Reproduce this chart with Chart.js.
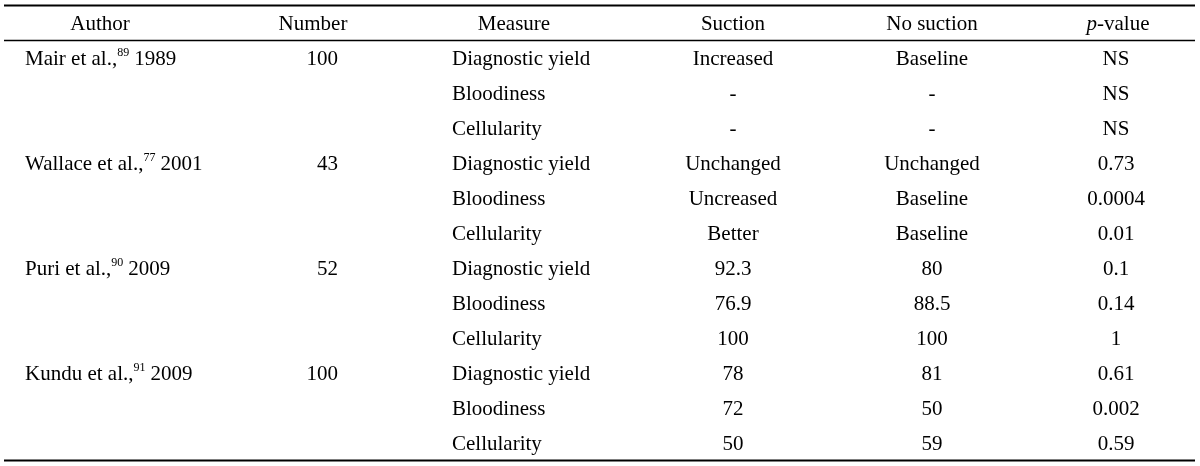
<!DOCTYPE html>
<html>
<head>
<meta charset="utf-8">
<script src="https://cdn.jsdelivr.net/npm/chart.js@4.4.1/dist/chart.umd.min.js"></script>
<style>
  html, body { margin: 0; padding: 0; background: #fff; }
  #wrap { width: 1200px; height: 466px; }
</style>
</head>
<body>
<div id="wrap"><canvas id="myChart" width="1200" height="466"></canvas></div>
<script>
// table contents
const headers = ["Author", "Number", "Measure", "Suction", "No suction", "p-value"];
const authors = ["Mair et al.,", "Wallace et al.,", "Puri et al.,", "Kundu et al.,"];
const refs = ["89", "77", "90", "91"];
const years = ["1989", "2001", "2009", "2009"];
const numbers = ["100", "43", "52", "100"];
const measures = ["Diagnostic yield", "Bloodiness", "Cellularity"];
const suction = ["Increased", "-", "-", "Unchanged", "Uncreased", "Better",
                 "92.3", "76.9", "100", "78", "72", "50"];
const noSuction = ["Baseline", "-", "-", "Unchanged", "Baseline", "Baseline",
                   "80", "88.5", "100", "81", "50", "59"];
const pValues = ["NS", "NS", "NS", "0.73", "0.0004", "0.01",
                 "0.1", "0.14", "1", "0.61", "0.002", "0.59"];

// column anchors on the x scale (0..1200) and how each column is aligned
const colX = [25, 338, 452, 733, 932, 1116];
const colAlign = ["left", "right", "left", "center", "center", "center"];
const headX = [100, 313, 514, 733, 932, 1118];

const FONT = "'Liberation Serif', 'Times New Roman', serif";
const INK = "#000";
const DY = 1; // optical nudge for the text baseline

// one dataset per column, one point per body row (row index = y value)
const nRows = suction.length;
const rowCells = [];
for (let r = 0; r < nRows; r++) {
    const a = r % 3 === 0 ? r / 3 : -1;
    rowCells.push([
        a >= 0 ? {name: authors[a], ref: refs[a], year: years[a]} : null,
        a >= 0 ? numbers[a] : "",
        measures[r % 3],
        suction[r],
        noSuction[r],
        pValues[r]
    ]);
}

const datasets = headers.map((h, c) => ({
    label: h,
    data: rowCells.map((cells, r) => ({x: colX[c], y: r + 1, cell: cells[c]})),
    pointRadius: 0,
    pointHoverRadius: 0
}));

const tablePlugin = {
    id: "tableText",
    afterDraw(chart) {
        const ctx = chart.ctx;
        const xs = chart.scales.x;
        const ys = chart.scales.y;
        ctx.save();
        ctx.fillStyle = INK;
        ctx.textBaseline = "middle";

        // rules
        ctx.strokeStyle = INK;
        const x0 = xs.getPixelForValue(4), x1 = xs.getPixelForValue(1195);
        [[-0.5, 2], [0.5, 1.6], [nRows + 0.5, 2]].forEach(([v, w]) => {
            const y = ys.getPixelForValue(v);
            ctx.lineWidth = w;
            ctx.beginPath();
            ctx.moveTo(x0, y);
            ctx.lineTo(x1, y);
            ctx.stroke();
        });

        // header row
        const hy = ys.getPixelForValue(0) + DY;
        ctx.textAlign = "center";
        headers.forEach((h, c) => {
            const hx = xs.getPixelForValue(headX[c]);
            if (h === "p-value") {
                ctx.font = "italic 21px " + FONT;
                const wp = ctx.measureText("p").width;
                ctx.font = "21px " + FONT;
                const wr = ctx.measureText("-value").width;
                const left = hx - (wp + wr) / 2;
                ctx.textAlign = "left";
                ctx.font = "italic 21px " + FONT;
                ctx.fillText("p", left, hy);
                ctx.font = "21px " + FONT;
                ctx.fillText("-value", left + wp, hy);
                ctx.textAlign = "center";
            } else {
                ctx.font = "21px " + FONT;
                ctx.fillText(h, hx, hy);
            }
        });

        // body cells from the point elements
        chart.data.datasets.forEach((ds, c) => {
            const meta = chart.getDatasetMeta(c);
            meta.data.forEach((pt, r) => {
                const cell = ds.data[r].cell;
                if (!cell) return;
                const y = pt.y + DY;
                ctx.font = "21px " + FONT;
                ctx.textAlign = colAlign[c];
                if (typeof cell === "object") {
                    let x = pt.x;
                    ctx.textAlign = "left";
                    ctx.fillText(cell.name, x, y);
                    x += ctx.measureText(cell.name).width;
                    ctx.font = "12px " + FONT;
                    ctx.fillText(cell.ref, x, y - 6);
                    x += ctx.measureText(cell.ref).width + 5;
                    ctx.font = "21px " + FONT;
                    ctx.fillText(cell.year, x, y);
                } else {
                    ctx.fillText(cell, pt.x, y);
                }
            });
        });
        ctx.restore();
    }
};

const ctx = document.getElementById("myChart").getContext("2d");
new Chart(ctx, {
    type: "scatter",
    data: {datasets: datasets},
    options: {
        responsive: false,
        animation: false,
        events: [],
        layout: {padding: 0},
        plugins: {
            legend: {display: false},
            tooltip: {enabled: false}
        },
        scales: {
            x: {type: "linear", min: 0, max: 1200, display: false},
            y: {type: "linear", min: -23 / 35, max: (466 - 23) / 35, reverse: true, display: false}
        }
    },
    plugins: [tablePlugin]
});
</script>
</body>
</html>
